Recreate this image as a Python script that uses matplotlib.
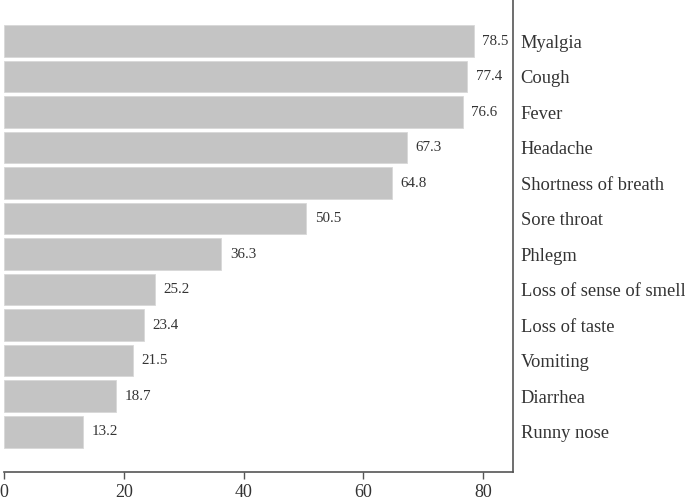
import matplotlib
matplotlib.use("Agg")
import matplotlib.pyplot as plt

symptoms = ["Myalgia", "Cough", "Fever", "Headache", "Shortness of breath",
            "Sore throat", "Phlegm", "Loss of sense of smell", "Loss of taste",
            "Vomiting", "Diarrhea", "Runny nose"]
values = [78.5, 77.4, 76.6, 67.3, 64.8, 50.5, 36.3, 25.2, 23.4, 21.5, 18.7, 13.2]
xticks = [0, 20, 40, 60, 80]

plt.rcParams['font.family'] = ['Liberation Serif', 'DejaVu Serif']

fig = plt.figure(figsize=(6.85, 5.01), dpi=100)
ax = fig.add_axes([4/685, 29/501, 509/685, 472/501])

pos = list(range(len(symptoms)))
ax.barh(pos, values, height=0.9, color='#c4c4c4', edgecolor='#d8d8d8', linewidth=0.6)
for p, v in zip(pos, values):
    ax.text(v + 1.4, p, f"{v:.1f}", va='center', ha='left', fontsize=10.8, color='#333333')

ax.set_xlim(0, 85)
ax.set_ylim(12.14, -1.155)
ax.set_xticks(xticks)
ax.set_xticklabels([str(t) for t in xticks], fontsize=13, color='#333333')
ax.set_yticks(pos)
ax.set_yticklabels(symptoms, fontsize=13.3, color='#333333')
ax.yaxis.tick_right()
ax.tick_params(axis='y', length=0, pad=5.5)
ax.tick_params(axis='x', length=5, color='#555555', width=1, pad=3.5)
for s in ['top', 'left']:
    ax.spines[s].set_visible(False)
for s in ['right', 'bottom']:
    ax.spines[s].set_color('#555555')
    ax.spines[s].set_linewidth(1.2)

fig.savefig("out.png", dpi=100)
